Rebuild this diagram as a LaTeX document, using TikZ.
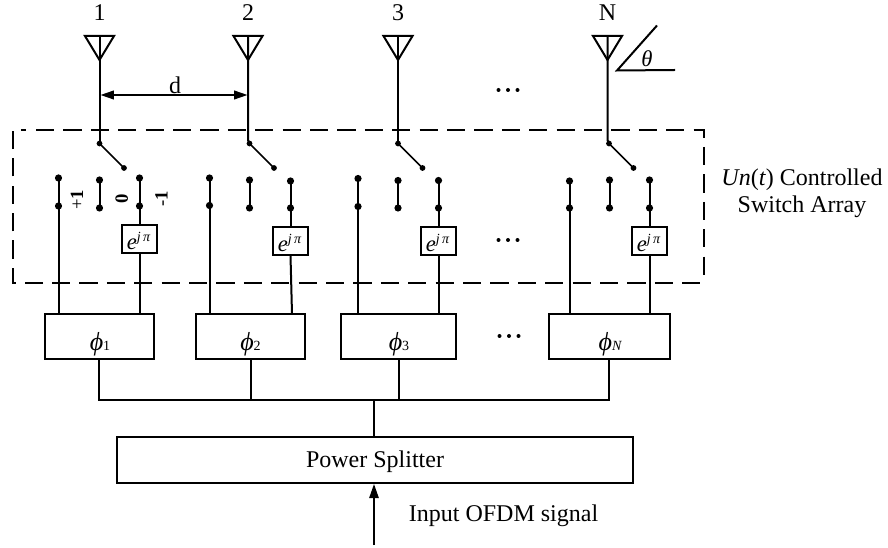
\documentclass[tikz,border=0pt]{standalone}
\usepackage{fontspec}
\setmainfont{Liberation Serif}
\usetikzlibrary{arrows.meta}
\tikzset{
 x=0.75pt,y=-0.75pt,
 wire/.style={line width=1.5pt},
 thinwire/.style={line width=1.2pt},
 dashwire/.style={line width=1.5pt,dash pattern=on 13.7pt off 6.85pt},
 lbl/.style={inner sep=0pt,font=\fontsize{18}{20}\selectfont},
 term/.style={circle,fill=black,inner sep=0pt,minimum size=5.4pt},
 sdot/.style={circle,fill=black,inner sep=0pt,minimum size=4.3pt},
 phil/.style={inner sep=0pt,font=\fontsize{19.5}{20}\selectfont\itshape},
 statel/.style={rotate=90,inner sep=0pt,font=\fontsize{14}{14}\selectfont},
}
\newcommand{\subnum}[1]{{\fontsize{10.5}{11}\selectfont #1}}
\begin{document}
\begin{tikzpicture}
\useasboundingbox (0,0) rectangle (888,548);
% antennas
\foreach \ax/\sx/\ly/\nm in {99.5/99.5/1/a,248/249.5/2/b,398/398/3/c,607.5/609/N/d}{
 \draw[wire,line join=miter] (\ax-14.5,36)--(\ax+14.5,36)--(\ax,60)--cycle;
 \node[lbl] (lab\nm) at (\ax,13) {\ly};
 \coordinate (top\nm) at (\ax,36);
 \coordinate (sw\nm) at (\sx,143.5);
 \coordinate (swe\nm) at (\sx+24.5,168);
 \draw[wire] (top\nm)--(\ax,140)--(sw\nm);
 \node[sdot] at (sw\nm) {};
 \node[sdot] at (swe\nm) {};
 \draw[thinwire] (sw\nm)--(swe\nm);
}
% d
\coordinate (dl) at (100.5,95);
\coordinate (dr) at (247.5,95);
\draw[thinwire,{Triangle[length=10pt,width=6.5pt]}-{Triangle[length=10pt,width=6.5pt]}] (dl)--(dr);
\node[lbl] (dlab) at (175,85) {d};
% dashed box
\draw[dashwire,line join=miter] (43,283)--(12.5,283)--(12.5,130)--(26,130);
\draw[dashwire,line join=miter] (36,130)--(704,130)--(704,276);
\draw[dashwire] (52,283)--(702,283);
% phi boxes
\foreach \xa/\xb in {44.5/154,195.5/305,341/456,548.5/669.5}{
 \draw[wire] (\xa,314) rectangle (\xb,359);
}
\node[phil] at (100,344.5) {ϕ\subnum{\upshape 1}};
\node[phil] at (250.5,344.5) {ϕ\subnum{\upshape 2}};
\node[phil] at (399,344.5) {ϕ\subnum{\upshape 3}};
\node[phil] at (610,344.5) {ϕ\subnum{N}};
% terminals
\foreach \x/\ya/\yb/\yc in {58.5/178/206/314,209.5/178/205.5/314,358/178.5/206.5/314,569.5/181/208/314}{
 \node[term] (t1) at (\x,\ya) {}; \node[term] (t2) at (\x,\yb) {};
 \draw[wire] (t1.center)--(t2.center)--(\x,\yc);
}
\foreach \x/\ya/\yb in {99.5/180/208,249.5/180/208,398/180.5/208,609.5/180/208}{
 \node[term] (t1) at (\x,\ya) {}; \node[term] (t2) at (\x,\yb) {};
 \draw[wire] (t1.center)--(t2.center);
}
\foreach \x/\xx/\ya/\yb/\yt in {139.5/139.5/178/206/225,290.5/292/181/208/227.5,438.5/438.5/180.5/208/227,649.5/649.5/180/208/227}{
 \node[term] (t1) at (\x,\ya) {}; \node[term] (t2) at (\x,\yb) {};
 \draw[wire] (t1.center)--(t2.center)--(\x,\yt);
 \draw[wire] (\x-17.5,\yt) rectangle (\x+17.5,\yt+28);
 \node[inner sep=0pt,font=\fontsize{17}{18}\selectfont\itshape] at (\x-1,\yt+15.5) {e\raisebox{6pt}{\fontsize{10.5}{11}\selectfont j\,π}};
 \draw[wire] (\x,\yt+28)--(\xx,314);
}
% state labels
\node[statel] (s1) at (77,200) {+\textbf{1}};
\node[statel] (s2) at (121.7,199) {\textbf{0}};
\node[statel] (s3) at (161.5,199) {-\textbf{1}};
% bus
\draw[wire] (99,359)--(99,400);
\draw[wire] (250.5,359)--(250.5,400);
\draw[wire] (398.5,359)--(398.5,400);
\draw[wire] (609,359)--(609,400);
\draw[wire] (98.4,400)--(609.6,400);
\draw[wire] (374,400)--(374,437);
% splitter
\draw[wire] (117,437) rectangle (633,483);
\node[lbl] (ps) at (375,461.5) {Power Splitter};
\coordinate (inp) at (374,545);
\draw[thinwire,-{Triangle[length=10.5pt,width=7pt]}] (inp)--(374,484);
\node[lbl] (inlab) at (503.5,516) {Input OFDM signal};
% dots
\foreach \xc/\yy in {508/90,508/240,509/336}{
 \foreach \dx in {-9.5,0,9.5}{ \fill (\xc+\dx,\yy) circle (2); }
}
% theta
\coordinate (tha) at (617,70.5);
\draw[wire] (657,25.5)--(tha)--(675,70);
\node[inner sep=0pt,font=\fontsize{17}{18}\selectfont\itshape] (thl) at (647,59) {θ};
% right text
\node[lbl] (r1) at (802,180) {\textit{Un}(\textit{t}) Controlled};
\node[lbl] (r2) at (802,207) {Switch Array};
\end{tikzpicture}
\end{document}
